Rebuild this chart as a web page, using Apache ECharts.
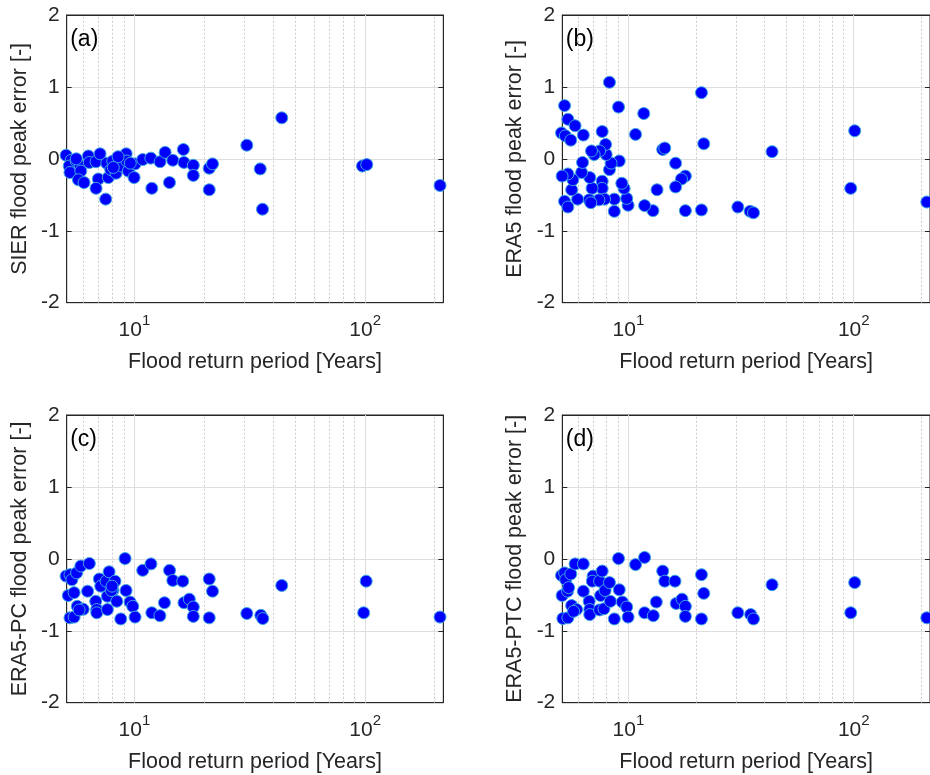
<!DOCTYPE html>
<html>
<head>
<meta charset="utf-8">
<script src="https://cdn.jsdelivr.net/npm/echarts@6/dist/echarts.min.js"></script>
<style>
html,body{margin:0;padding:0;background:#fff;}
#chart{width:930px;height:775px;}
</style>
</head>
<body>
<div id="chart"></div>
<script>
// ---- data ----
const periodA = [5.06,5.32,5.22,5.26,5.59,5.82,5.86,5.72,6.05,6.32,6.38,6.82,7.10,6.98,6.82,7.51,7.59,7.71,7.90,8.06,8.33,8.52,8.67,8.82,9.21,9.42,9.27,9.97,10.07,10.87,11.78,11.9,12.92,13.59,14.19,14.67,16.3,16.4,18.0,18.0,21.1,21.8,21.1,30.7,43.5,35.1,35.9,97.3,101.6,211,8.5,9.6,8.1,5.6];
const errorA  = [0.05,-0.02,-0.10,-0.19,-0.03,-0.10,-0.17,-0.29,-0.33,0.04,-0.05,-0.04,0.07,-0.28,-0.41,-0.56,-0.06,-0.26,-0.15,-0.03,-0.20,-0.08,0.01,-0.10,0.07,-0.17,-0.03,-0.26,-0.07,-0.01,0.01,-0.41,-0.04,0.09,-0.33,-0.02,0.13,-0.05,-0.09,-0.23,-0.13,-0.07,-0.43,0.19,0.57,-0.14,-0.70,-0.10,-0.08,-0.37,0.03,-0.06,-0.12,0.0];

const periodB = [5.21,5.39,5.80,5.05,5.25,5.55,6.31,7.65,8.24,9.04,10.76,11.7,14.2,14.5,21.1,21.6,43.4,101,97,30.6,34.7,35.9,21.1,17.9,17.9,17.2,16.2,16.2,13.4,12.85,11.8,9.97,9.83,9.57,9.35,9.11,8.66,8.66,8.24,8.38,7.97,7.92,7.45,7.65,7.65,7.84,7.40,7.05,6.86,6.90,6.74,6.70,6.81,6.20,6.26,5.95,5.60,5.67,5.39,5.08,5.21,5.39,211];
const errorB  = [0.74,0.55,0.46,0.36,0.32,0.26,0.33,0.38,1.065,0.72,0.34,0.63,0.13,0.15,0.92,0.21,0.10,0.39,-0.41,-0.67,-0.73,-0.75,-0.71,-0.72,-0.24,-0.28,-0.39,-0.06,-0.43,-0.72,-0.65,-0.645,-0.55,-0.41,-0.34,-0.03,-0.73,-0.56,-0.15,-0.06,0.06,0.20,0.11,-0.31,-0.41,-0.56,-0.57,0.06,0.11,-0.41,-0.26,-0.57,-0.61,-0.19,-0.05,-0.56,-0.43,-0.29,-0.21,-0.24,-0.59,-0.67,-0.60];

const periodC = [5.06,5.26,5.36,5.62,5.86,6.38,6.27,5.17,5.48,5.66,6.0,5.26,5.48,5.76,6.80,6.87,6.87,7.05,7.15,7.54,7.77,7.64,7.64,8.06,8.24,8.39,8.73,9.11,9.20,9.58,9.84,10.07,10.87,11.8,11.9,12.9,13.5,14.2,14.67,16.2,16.4,17.3,18.0,18.0,21.1,21.8,21.1,30.7,35.3,36.0,43.5,98.5,101,211,7.95,8.0];
const errorC  = [-0.24,-0.22,-0.29,-0.195,-0.10,-0.065,-0.45,-0.51,-0.47,-0.66,-0.70,-0.82,-0.81,-0.71,-0.59,-0.705,-0.75,-0.28,-0.38,-0.31,-0.18,-0.52,-0.705,-0.44,-0.31,-0.59,-0.835,0.004,-0.44,-0.60,-0.66,-0.81,-0.16,-0.07,-0.75,-0.79,-0.61,-0.16,-0.30,-0.31,-0.61,-0.56,-0.67,-0.80,-0.28,-0.45,-0.82,-0.76,-0.785,-0.83,-0.37,-0.75,-0.31,-0.81,-0.44,-0.38];

const periodD = [5.05,5.21,5.27,5.55,5.80,6.31,6.31,5.08,5.37,5.43,5.60,5.89,5.12,5.39,5.71,6.70,6.74,6.74,6.97,6.92,7.45,7.65,7.53,7.45,7.79,7.88,8.24,8.32,8.66,9.04,9.11,9.40,9.83,9.97,10.76,11.8,11.8,12.9,13.3,14.2,14.5,16.1,16.3,17.3,17.9,17.9,21.1,21.6,21.1,30.6,34.9,35.9,43.4,97,101,211];
const errorD  = [-0.23,-0.195,-0.29,-0.21,-0.07,-0.07,-0.45,-0.51,-0.45,-0.40,-0.65,-0.705,-0.83,-0.82,-0.73,-0.59,-0.705,-0.775,-0.24,-0.31,-0.31,-0.17,-0.51,-0.71,-0.695,-0.44,-0.33,-0.59,-0.835,0.004,-0.43,-0.60,-0.67,-0.81,-0.08,0.02,-0.75,-0.79,-0.60,-0.17,-0.31,-0.31,-0.62,-0.56,-0.66,-0.80,-0.22,-0.48,-0.835,-0.75,-0.775,-0.835,-0.36,-0.75,-0.33,-0.82];

const panelLabels = ['(a)','(b)','(c)','(d)'];
const yNames = ['SIER flood peak error [-]','ERA5 flood peak error [-]','ERA5-PC flood peak error [-]','ERA5-PTC flood peak error [-]'];
const xName = 'Flood return period [Years]';
const majorGridValues = [10,100];
const minorGridValues = [6,7,8,9,20,30,40,50,60,70,80,90,200];

// ---- layout / style ----
const FONT = '"Liberation Sans", Arial, Helvetica, sans-serif';
const TXT = '#262626';
const grids = [
  {left: 66.7,  top: 15,  width: 376.6, height: 287.7},
  {left: 562.3, top: 15,  width: 376.6, height: 287.7},
  {left: 66.7,  top: 415, width: 376.6, height: 287.7},
  {left: 562.3, top: 415, width: 376.6, height: 287.7}
];
const periods = [periodA, periodB, periodC, periodD];
const errors = [errorA, errorB, errorC, errorD];
const XMIN = 5.09, XMAX = 218;

const option = {
  animation: false,
  backgroundColor: '#fff',
  title: [], grid: [], xAxis: [], yAxis: [], series: []
};

for (let i = 0; i < 4; i++) {
  const g = grids[i];
  option.grid.push(Object.assign({show: true, borderColor: TXT, borderWidth: 1, backgroundColor: 'transparent', containLabel: false}, g));
  option.title.push({
    text: panelLabels[i], left: g.left + 3.5, top: g.top + 13, padding: 0,
    textStyle: {fontFamily: FONT, fontSize: 23, fontWeight: 'normal', color: '#000'}
  });
  option.xAxis.push({
    type: 'log', logBase: 10, gridIndex: i, min: XMIN, max: XMAX, position: 'bottom',
    name: xName, nameLocation: 'middle', nameGap: 48,
    nameTextStyle: {fontFamily: FONT, fontSize: 21.5, color: TXT},
    axisLine: {show: true, onZero: false, lineStyle: {color: TXT, width: 1}},
    axisTick: {show: true, inside: true, length: 4, lineStyle: {color: TXT}},
    axisLabel: {
      show: true, margin: 17, showMinLabel: false, showMaxLabel: false,
      formatter: function (v) {
        const e = Math.round(Math.log10(v));
        if (Math.abs(Math.log10(v) - e) > 1e-6) return '';
        return '{b|10}{s|' + e + '}';
      },
      rich: {
        b: {fontFamily: FONT, fontSize: 21, color: TXT, verticalAlign: 'bottom', lineHeight: 21},
        s: {fontFamily: FONT, fontSize: 15, color: TXT, verticalAlign: 'bottom', lineHeight: 15, padding: [0, 0, 12, 0]}
      }
    },
    splitLine: {show: false}
  });
  option.yAxis.push({
    type: 'value', gridIndex: i, min: -2, max: 2, interval: 1, position: 'left',
    name: yNames[i], nameLocation: 'middle', nameGap: 36,
    nameTextStyle: {fontFamily: FONT, fontSize: 21.5, color: TXT},
    axisLine: {show: true, onZero: false, lineStyle: {color: TXT, width: 1}},
    axisTick: {show: true, inside: true, length: 5, lineStyle: {color: TXT}},
    axisLabel: {show: true, margin: 7, fontFamily: FONT, fontSize: 21, color: TXT},
    splitLine: {show: true, lineStyle: {color: '#dedede', width: 1}}
  });
}
for (let i = 0; i < 4; i++) {
  option.xAxis.push({
    type: 'log', logBase: 10, gridIndex: i, min: XMIN, max: XMAX, position: 'top',
    axisLine: {show: true, onZero: false, lineStyle: {color: TXT}},
    axisTick: {show: true, inside: true, length: 4, lineStyle: {color: TXT}},
    axisLabel: {show: false}, splitLine: {show: false}
  });
  option.yAxis.push({
    type: 'value', gridIndex: i, min: -2, max: 2, interval: 1, position: 'right',
    axisLine: {show: true, onZero: false, lineStyle: {color: TXT}},
    axisTick: {show: true, inside: true, length: 5, lineStyle: {color: TXT}},
    axisLabel: {show: false}, splitLine: {show: false}
  });
}

for (let i = 0; i < 4; i++) {
  const pts = periods[i].map((p, k) => [p, errors[i][k]]);
  const gridLines = majorGridValues.map(v => ({xAxis: v, lineStyle: {type: 'solid', color: '#dedede', width: 1}}))
    .concat(minorGridValues.map(v => ({xAxis: v, lineStyle: {type: [2, 2], color: '#cdcdcd', width: 1}})));
  option.series.push({
    type: 'scatter', xAxisIndex: i, yAxisIndex: i, z: 3, clip: false,
    symbol: 'circle', symbolSize: 12,
    itemStyle: {color: '#0000ff', borderColor: '#3aa6dd', borderWidth: 1, opacity: 1},
    data: pts,
    markLine: {
      silent: true, z: 1, symbol: ['none', 'none'], animation: false,
      label: {show: false},
      emphasis: {disabled: true},
      data: gridLines
    }
  });
}

const chart = echarts.init(document.getElementById('chart'), null, {renderer: 'canvas'});
chart.setOption(option);
</script>
</body>
</html>
